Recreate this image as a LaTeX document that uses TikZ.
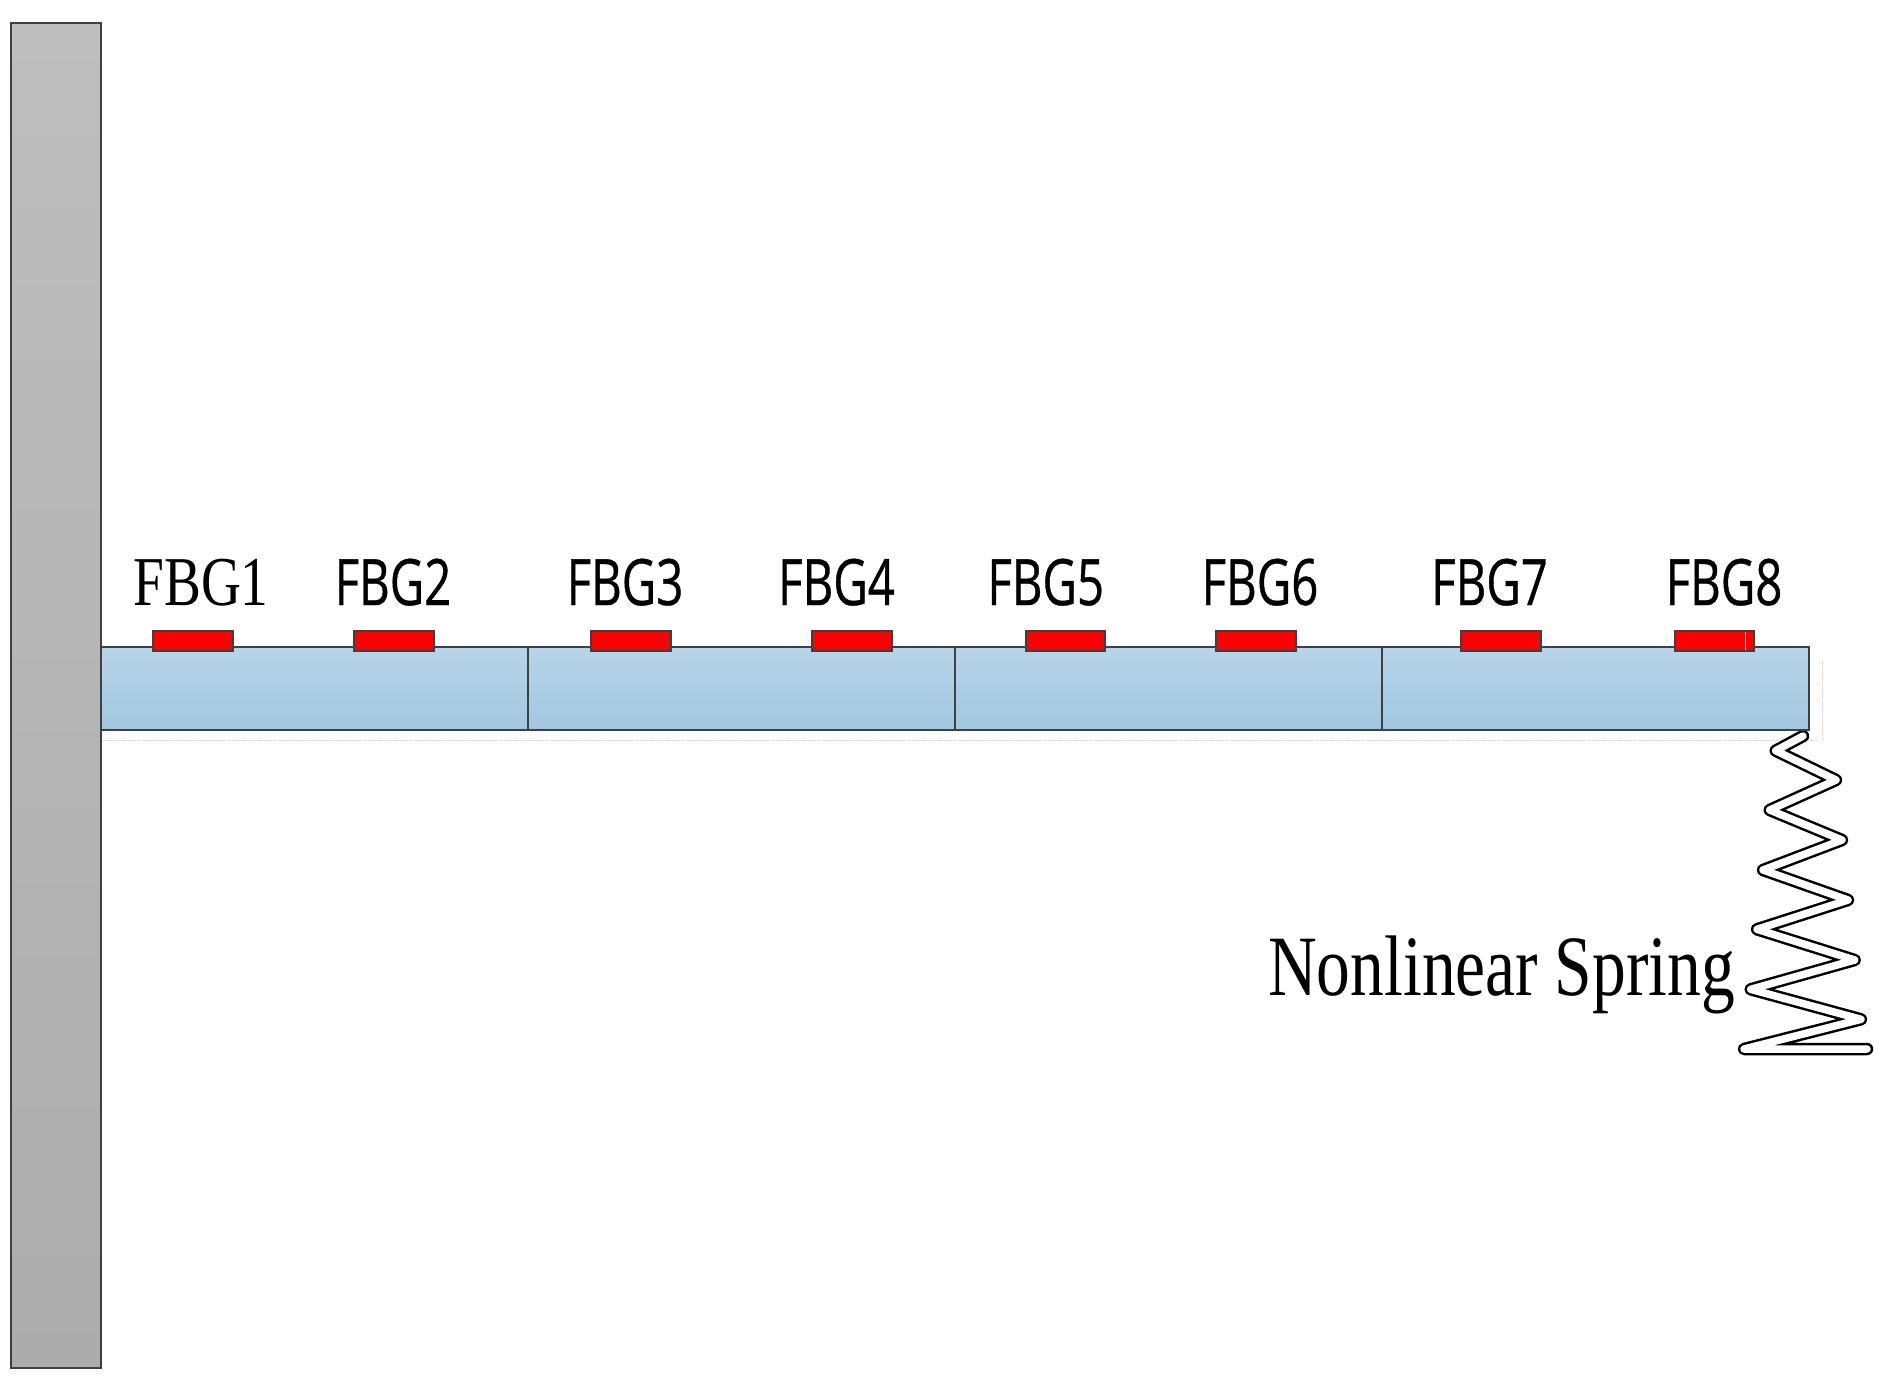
\documentclass[tikz,border=0pt]{standalone}
\usepackage{fontspec}
\setmainfont{Liberation Serif}
\newfontfamily\serifcond[FakeStretch=0.79]{Liberation Serif}
\newfontfamily\springcond[FakeStretch=0.785]{Liberation Serif}
\newfontfamily\sanscond[FakeStretch=0.74,FakeBold=0.6]{Open Sans}
\usetikzlibrary{positioning}
\tikzset{
  x=1pt,y=-1pt,
  wall/.style={draw=edgegray,line width=2.5pt,top color=wallA,bottom color=wallB,inner sep=0pt},
  beam/.style={draw=edgegray,line width=2.5pt,top color=beamA,bottom color=beamB,inner sep=0pt},
  divider/.style={draw=edgegray,line width=1.5pt},
  fbgbox/.style={draw=edgegray,line width=2.5pt,fill=red},
  sanslabel/.style={font=\fontsize{64}{64}\selectfont\sanscond,anchor=base,inner sep=0pt,text=black},
  seriflabel/.style={font=\fontsize{70}{70}\selectfont\serifcond,anchor=base,inner sep=0pt,text=black},
  springlabel/.style={font=\fontsize{86}{86}\selectfont\springcond,anchor=base west,inner sep=0pt,text=black},
  springline/.style={draw=black,line width=2.5pt,double=white,double distance=7.5pt,line join=round,line cap=round},
  ghost/.style={draw=black!18,line width=0.7pt,densely dotted},
}
\definecolor{edgegray}{HTML}{404040}
\definecolor{wallA}{HTML}{BEBEBE}
\definecolor{wallB}{HTML}{ACACAC}
\definecolor{beamA}{HTML}{B8D4E8}
\definecolor{beamB}{HTML}{A0C8E0}
\begin{document}
\begin{tikzpicture}
\useasboundingbox (0,0) rectangle (1890,1390);
% faint construction marks
\draw[ghost] (101,740) -- (1818,740);
\draw[ghost] (1822,660) -- (1822,740);
% spring
\draw[springline] (1803,736) -- (1775.7,750.7) -- (1836,780) -- (1769.7,810) -- (1842,840) -- (1763,870)
  -- (1848,900) -- (1757,929.3) -- (1854.7,960) -- (1750.7,989.3) -- (1861,1019.3) -- (1744,1049) -- (1867,1049);
% wall
\path[wall] (11,23) rectangle (101,1368);
% beam
\path[beam] (101,647) rectangle (1809,730);
\coordinate (d1a) at (528,647); \coordinate (d1b) at (528,730);
\coordinate (d2a) at (955,647); \coordinate (d2b) at (955,730);
\coordinate (d3a) at (1382,647); \coordinate (d3b) at (1382,730);
\draw[divider] (d1a) -- (d1b);
\draw[divider] (d2a) -- (d2b);
\draw[divider] (d3a) -- (d3b);
% gratings
\path[fbgbox] (153,631) rectangle (233,651);
\path[fbgbox] (354,631) rectangle (434,651);
\path[fbgbox] (591,631) rectangle (671,651);
\path[fbgbox] (812,631) rectangle (892,651);
\path[fbgbox] (1026,631) rectangle (1105,651);
\path[fbgbox] (1216,631) rectangle (1296,651);
\path[fbgbox] (1461,631) rectangle (1541,651);
\path[fbgbox] (1675,631) rectangle (1754,651);
\draw[white,line width=1pt] (1745,632) -- (1745,650);
% labels
\node[seriflabel] (f1) at (201,605) {FBG1};
\node[sanslabel] (f2) at (393,605) {FBG2};
\node[sanslabel] (f3) at (625,605) {FBG3};
\node[sanslabel] (f4) at (836.5,605) {FBG4};
\node[sanslabel] (f5) at (1045.7,605) {FBG5};
\node[sanslabel] (f6) at (1260,605) {FBG6};
\node[sanslabel] (f7) at (1489.5,605) {FBG7};
\node[sanslabel] (f8) at (1724,605) {FBG8};
\node[springlabel] (ns) at (1268,995) {Nonlinear Spring};
\end{tikzpicture}
\end{document}
